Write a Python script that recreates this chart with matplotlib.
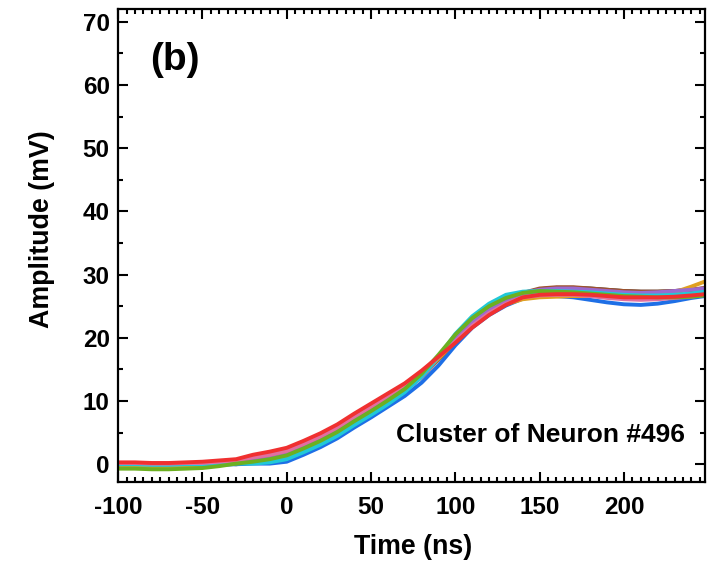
import numpy as np
import matplotlib
matplotlib.use("Agg")
import matplotlib.pyplot as plt
from matplotlib.ticker import MultipleLocator

plt.rcParams['font.family'] = ['Liberation Sans', 'DejaVu Sans']
plt.rcParams['font.weight'] = 'bold'
plt.rcParams['axes.unicode_minus'] = False

# time axis (ns)
t = [-100, -90, -80, -70, -60, -50, -40, -30, -20, -10, 0, 10, 20, 30, 40, 50,
     60, 70, 80, 90, 100, 110, 120, 130, 140, 150, 160, 170, 180, 190, 200,
     210, 220, 230, 240, 248]

# individual spike waveforms in the cluster (mV)
w_gray = [0.1, 0.1, 0.0, 0.0, 0.1, 0.1, 0.2, 0.0, 0.3, 0.7, 1.3, 2.4, 3.6, 5.0, 6.7, 8.3,
          10.0, 11.7, 13.9, 16.6, 19.4, 22.0, 24.0, 25.6, 26.9, 27.7, 27.9, 27.9, 27.8, 27.6, 27.4,
          27.3, 27.3, 27.4, 27.6, 27.8]
w_blue = [-0.2, -0.2, -0.3, -0.3, -0.2, -0.2, -0.1, 0.0, 0.1, 0.1, 0.4, 1.5, 2.7, 4.1, 5.8, 7.4,
          9.1, 10.8, 12.9, 15.6, 18.8, 21.6, 23.6, 25.1, 26.2, 26.6, 26.6, 26.4, 26.0, 25.6, 25.3,
          25.2, 25.4, 25.8, 26.3, 26.6]
w_brown = [-0.1, -0.1, -0.2, -0.2, -0.1, -0.1, 0.0, 0.1, 0.3, 0.6, 1.2, 2.3, 3.5, 4.9, 6.6, 8.2,
           9.9, 11.6, 13.8, 16.6, 19.5, 22.2, 24.3, 25.9, 27.1, 27.8, 28.0, 28.0, 27.8, 27.6, 27.4,
           27.3, 27.3, 27.4, 27.6, 27.9]
w_steel = [0.0, 0.0, -0.1, -0.1, 0.0, 0.0, 0.1, 0.2, 0.3, 0.6, 1.1, 2.2, 3.4, 4.8, 6.5, 8.1,
           9.8, 11.5, 13.8, 16.8, 20.0, 22.6, 24.6, 26.0, 26.8, 27.0, 27.2, 27.1, 27.0, 26.8, 26.6,
           26.5, 26.5, 26.6, 26.8, 27.0]
w_gold = [-0.3, -0.2, -0.3, -0.4, -0.3, -0.2, 0.0, 0.4, 0.8, 1.3, 1.9, 3.0, 4.2, 5.6, 7.3, 8.9,
          10.6, 12.3, 14.4, 16.7, 19.4, 22.0, 23.9, 25.3, 26.1, 26.4, 26.5, 26.6, 26.6, 26.6, 26.5,
          26.5, 26.6, 27.2, 28.1, 28.9]
w_purple = [0.1, 0.1, 0.0, 0.0, 0.1, 0.1, 0.2, 0.4, 0.7, 1.1, 1.7, 2.8, 4.0, 5.4, 7.1, 8.7,
            10.4, 12.1, 14.4, 17.1, 19.9, 22.5, 24.5, 26.0, 27.1, 27.6, 27.8, 27.8, 27.6, 27.4, 27.2,
            27.1, 27.2, 27.4, 27.6, 27.8]
w_cyan = [0.0, 0.0, -0.1, -0.1, 0.0, 0.0, 0.0, 0.1, 0.1, 0.3, 0.8, 1.9, 3.1, 4.5, 6.2, 7.8,
          9.5, 11.4, 13.9, 17.0, 20.6, 23.4, 25.4, 26.8, 27.3, 27.4, 27.4, 27.3, 27.2, 27.0, 26.8,
          26.7, 26.7, 26.8, 27.0, 27.3]
w_pink = [0.2, 0.2, 0.1, 0.1, 0.2, 0.2, 0.4, 0.6, 1.1, 1.5, 2.1, 3.2, 4.4, 5.8, 7.5, 9.1,
          10.8, 12.5, 14.6, 17.0, 19.4, 21.9, 23.9, 25.4, 26.4, 26.7, 26.8, 26.8, 26.6, 26.3, 26.1,
          26.0, 26.1, 26.3, 26.5, 26.8]
w_green = [-0.7, -0.7, -0.8, -0.8, -0.7, -0.6, -0.3, 0.1, 0.4, 0.8, 1.4, 2.5, 3.7, 5.1, 6.8, 8.4,
           10.1, 11.9, 14.3, 17.3, 20.5, 23.1, 25.0, 26.3, 27.1, 27.4, 27.3, 27.2, 27.0, 26.8, 26.6,
           26.5, 26.4, 26.4, 26.5, 26.7]
w_red = [0.3, 0.3, 0.2, 0.2, 0.3, 0.4, 0.6, 0.8, 1.5, 2.0, 2.6, 3.7, 4.9, 6.3, 8.0, 9.6,
         11.2, 12.8, 14.8, 17.0, 19.2, 21.6, 23.6, 25.2, 26.4, 26.8, 26.9, 26.9, 26.8, 26.6, 26.4,
         26.4, 26.4, 26.5, 26.7, 26.9]

waves = [w_gray, w_blue, w_brown, w_steel, w_gold, w_purple, w_cyan, w_pink, w_green, w_red]
colors = ['#3c3c3c', '#1e6fe6', '#a0522d', '#6aa0d8', '#e0a020', '#9a6ad0',
          '#20c8d8', '#e070a0', '#6cb020', '#f03030']

fig = plt.figure(figsize=(7.2, 5.65), dpi=100)
ax = fig.add_axes([0.164, 0.147, 0.815, 0.837])

for w, c in zip(waves, colors):
    ax.plot(t, w, color=c, lw=2.8, solid_joinstyle='round')

ax.set_xlim(-100, 248)
ax.set_ylim(-2.8, 72)
ax.xaxis.set_major_locator(MultipleLocator(50))
ax.xaxis.set_minor_locator(MultipleLocator(5))
ax.yaxis.set_major_locator(MultipleLocator(10))
ax.yaxis.set_minor_locator(MultipleLocator(5))
ax.tick_params(which='both', direction='in', top=True, right=True, width=1.5)
ax.tick_params(which='major', length=7, labelsize=17.5)
ax.tick_params(axis='x', which='major', pad=10)
ax.tick_params(axis='y', which='major', pad=6)
ax.tick_params(which='minor', length=3.5)
for s in ax.spines.values():
    s.set_linewidth(1.6)

ax.set_xlabel('Time (ns)', fontsize=19.3, fontweight='bold', va='top')
ax.set_ylabel('Amplitude (mV)', fontsize=19.3, fontweight='bold')
ax.xaxis.set_label_coords(0.503, -0.11)
ax.yaxis.set_label_coords(-0.107, 0.535)

ax.text(-81, 64, '(b)', fontsize=28, fontweight='bold', va='center', ha='left')
ax.text(236, 4.6, 'Cluster of Neuron #496', fontsize=19, fontweight='bold',
        va='center', ha='right')

fig.savefig('out.png', dpi=100)
